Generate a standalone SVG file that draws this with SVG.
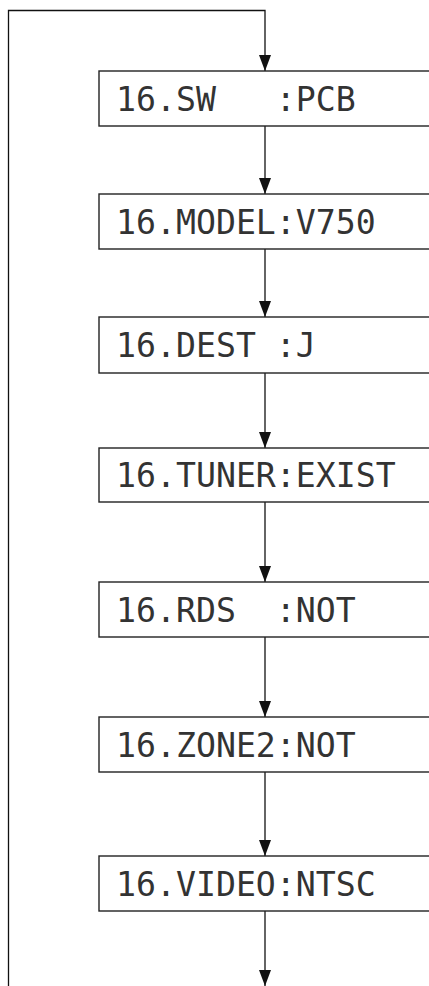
<svg xmlns="http://www.w3.org/2000/svg" width="429" height="986" viewBox="0 0 429 986">
<style>
.box{fill:#fff;stroke:#222;stroke-width:1.4}
.lbl{font-family:"DejaVu Sans Mono","Liberation Mono",monospace;font-size:33.2px;fill:#333}
.ln{fill:none;stroke:#111;stroke-width:1.3}
</style>
<defs>
<marker id="ah" markerUnits="userSpaceOnUse" markerWidth="16" markerHeight="12" viewBox="0 0 16 12" refX="16" refY="6" orient="auto">
<path d="M0,0 L16,6 L0,12 z" fill="#111"/>
</marker>
</defs>
<rect width="429" height="986" fill="#fff"/>
<g id="connectors">
<path class="ln" d="M8.5,986 V10.5 H265 V71" marker-end="url(#ah)"/>
<line class="ln" x1="265" y1="126" x2="265" y2="194" marker-end="url(#ah)"/>
<line class="ln" x1="265" y1="249" x2="265" y2="317" marker-end="url(#ah)"/>
<line class="ln" x1="265" y1="373" x2="265" y2="448" marker-end="url(#ah)"/>
<line class="ln" x1="265" y1="502" x2="265" y2="582" marker-end="url(#ah)"/>
<line class="ln" x1="265" y1="637" x2="265" y2="717" marker-end="url(#ah)"/>
<line class="ln" x1="265" y1="772" x2="265" y2="856" marker-end="url(#ah)"/>
<line class="ln" x1="265" y1="911" x2="265" y2="986" marker-end="url(#ah)"/>
</g>
<g id="n1"><rect class="box" x="99" y="71" width="340" height="55"/><text class="lbl" x="116" y="111" xml:space="preserve">16.SW   :PCB</text></g>
<g id="n2"><rect class="box" x="99" y="194" width="340" height="55"/><text class="lbl" x="116" y="234" xml:space="preserve">16.MODEL:V750</text></g>
<g id="n3"><rect class="box" x="99" y="317" width="340" height="56"/><text class="lbl" x="116" y="357" xml:space="preserve">16.DEST :J</text></g>
<g id="n4"><rect class="box" x="99" y="448" width="340" height="54"/><text class="lbl" x="116" y="487" xml:space="preserve">16.TUNER:EXIST</text></g>
<g id="n5"><rect class="box" x="99" y="582" width="340" height="55"/><text class="lbl" x="116" y="622" xml:space="preserve">16.RDS  :NOT</text></g>
<g id="n6"><rect class="box" x="99" y="717" width="340" height="55"/><text class="lbl" x="116" y="757" xml:space="preserve">16.ZONE2:NOT</text></g>
<g id="n7"><rect class="box" x="99" y="856" width="340" height="55"/><text class="lbl" x="116" y="896" xml:space="preserve">16.VIDEO:NTSC</text></g>
</svg>
